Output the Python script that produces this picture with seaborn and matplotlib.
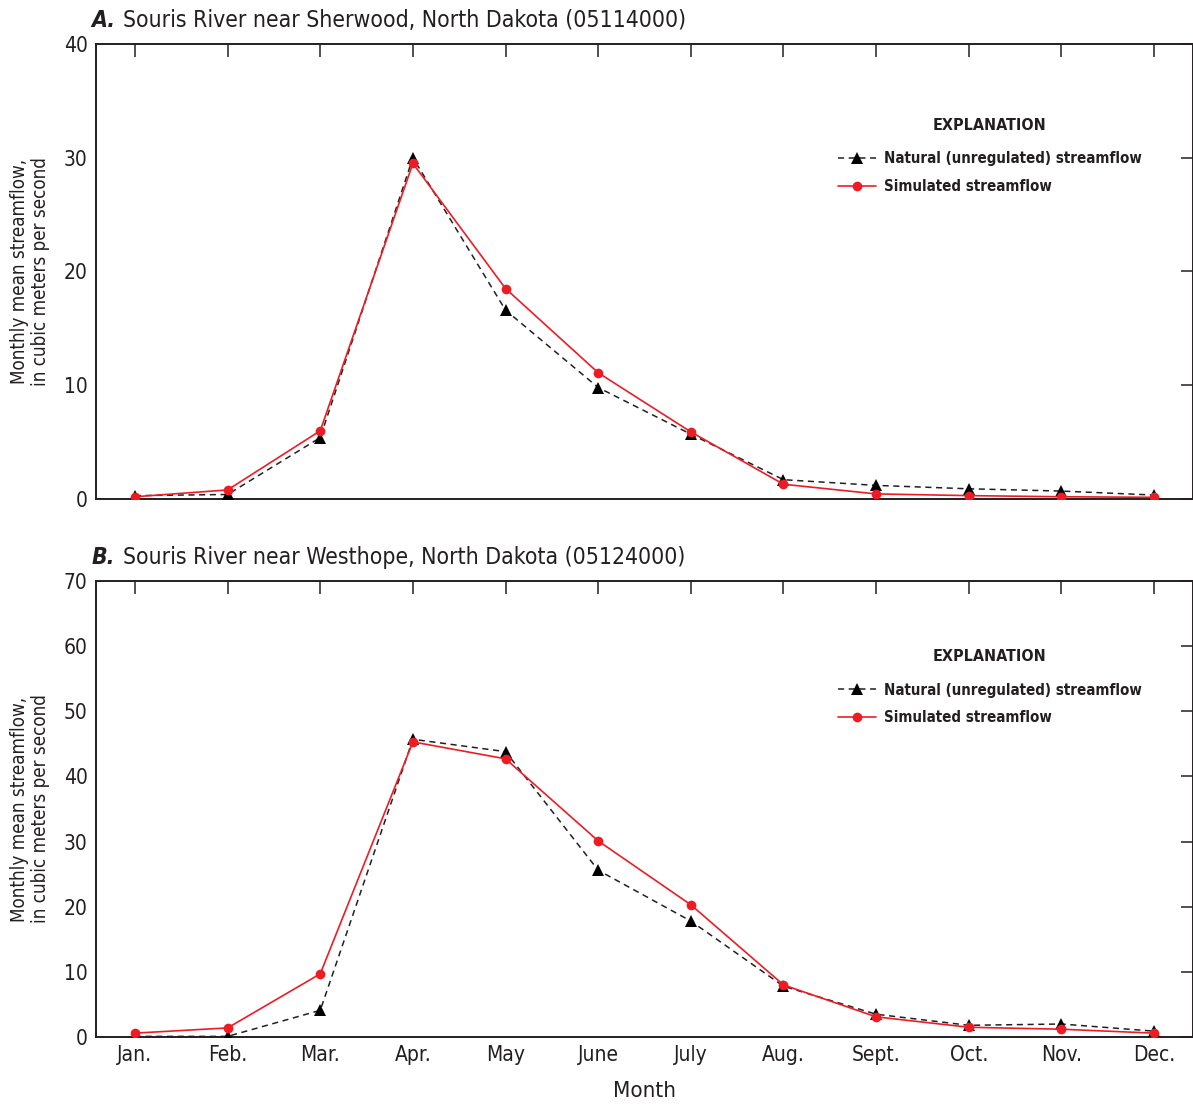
import matplotlib
matplotlib.use("Agg")
import matplotlib.pyplot as plt
import seaborn as sns
import pandas as pd

months = [1, 2, 3, 4, 5, 6, 7, 8, 9, 10, 11, 12]
month_labels = ["Jan.", "Feb.", "Mar.", "Apr.", "May", "June",
                "July", "Aug.", "Sept.", "Oct.", "Nov.", "Dec."]

# Souris River near Sherwood (05114000), cubic meters per second
sherwood_natural = [0.3, 0.4, 5.4, 30.0, 16.6, 9.8, 5.7, 1.7, 1.2, 0.9, 0.7, 0.35]
sherwood_simulated = [0.2, 0.8, 6.0, 29.5, 18.5, 11.1, 5.9, 1.3, 0.45, 0.3, 0.2, 0.15]

# Souris River near Westhope (05124000), cubic meters per second
westhope_natural = [0.1, 0.1, 4.1, 45.7, 43.8, 25.6, 17.8, 7.8, 3.5, 1.8, 2.0, 0.9]
westhope_simulated = [0.6, 1.4, 9.7, 45.3, 42.7, 30.1, 20.3, 8.0, 3.1, 1.5, 1.2, 0.6]

panel_titles = [("A.", "Souris River near Sherwood, North Dakota (05114000)"),
                ("B.", "Souris River near Westhope, North Dakota (05124000)")]
y_limits = [40, 70]
y_steps = [10, 10]
legend_tops = [0.838, 0.851]

sns.set_theme(style="white")
plt.rcParams["font.family"] = ["DejaVu Sans"]
plt.rcParams["font.stretch"] = "condensed"
TEXT = "#231F20"
RED = "#ED1C24"
plt.rcParams["text.color"] = TEXT
plt.rcParams["axes.labelcolor"] = TEXT
plt.rcParams["xtick.color"] = TEXT
plt.rcParams["ytick.color"] = TEXT

fig = plt.figure(figsize=(11.93, 11.07), dpi=100)
ax_a = fig.add_axes([0.0805, 0.5492, 0.9195, 0.4111])
ax_b = fig.add_axes([0.0805, 0.0632, 0.9195, 0.4120])

series = [(sherwood_natural, sherwood_simulated), (westhope_natural, westhope_simulated)]

for i, (ax, (nat, sim)) in enumerate(zip([ax_a, ax_b], series)):
    df = pd.DataFrame({"month": months, "natural": nat, "simulated": sim})
    sns.lineplot(data=df, x="month", y="natural", ax=ax, color=TEXT,
                 linestyle=(0, (4, 3)), linewidth=1.1, marker="^",
                 markersize=8.5, markeredgewidth=0, markerfacecolor="black",
                 label="Natural (unregulated) streamflow", zorder=3)
    sns.lineplot(data=df, x="month", y="simulated", ax=ax, color=RED,
                 linestyle="-", linewidth=1.2, marker="o",
                 markersize=7, markeredgewidth=0, markerfacecolor=RED,
                 label="Simulated streamflow", zorder=4)

    ax.set_xlim(0.58, 12.42)
    ax.set_ylim(0, y_limits[i])
    ax.set_yticks(range(0, y_limits[i] + 1, y_steps[i]))
    ax.set_xticks(months)
    if i == 1:
        ax.set_xticklabels(month_labels)
        ax.set_xlabel("Month", fontsize=16, labelpad=11)
    else:
        ax.set_xticklabels([])
        ax.set_xlabel("")
    ax.set_ylabel("Monthly mean streamflow,\nin cubic meters per second",
                  fontsize=13.5, labelpad=10, linespacing=1.1)
    ax.tick_params(axis="both", which="both", direction="in", length=9,
                   width=1.1, top=True, right=True, labelsize=15, pad=6)
    for sp in ax.spines.values():
        sp.set_visible(True)
        sp.set_color(TEXT)
        sp.set_linewidth(1.4)

    leg = ax.legend(loc="upper left", bbox_to_anchor=(0.6764, legend_tops[i]),
                    frameon=False, title="EXPLANATION", fontsize=10.8,
                    borderpad=0, borderaxespad=0,
                    handlelength=2.5, handletextpad=0.55, labelspacing=0.85)
    leg.get_title().set_fontweight("bold")
    leg.get_title().set_fontsize(11.5)
    leg._legend_box.align = "center"
    leg._legend_box.sep = 13.5
    for t in leg.get_texts():
        t.set_fontweight("bold")

    letter, name = panel_titles[i]
    ax.text(-0.004, 1.027, letter, transform=ax.transAxes, fontsize=16.5,
            fontweight="bold", fontstyle="italic", ha="left", va="bottom")
    ax.text(0.0246, 1.027, name, transform=ax.transAxes,
            fontsize=16.5, ha="left", va="bottom")

fig.savefig("out.png", dpi=100)
